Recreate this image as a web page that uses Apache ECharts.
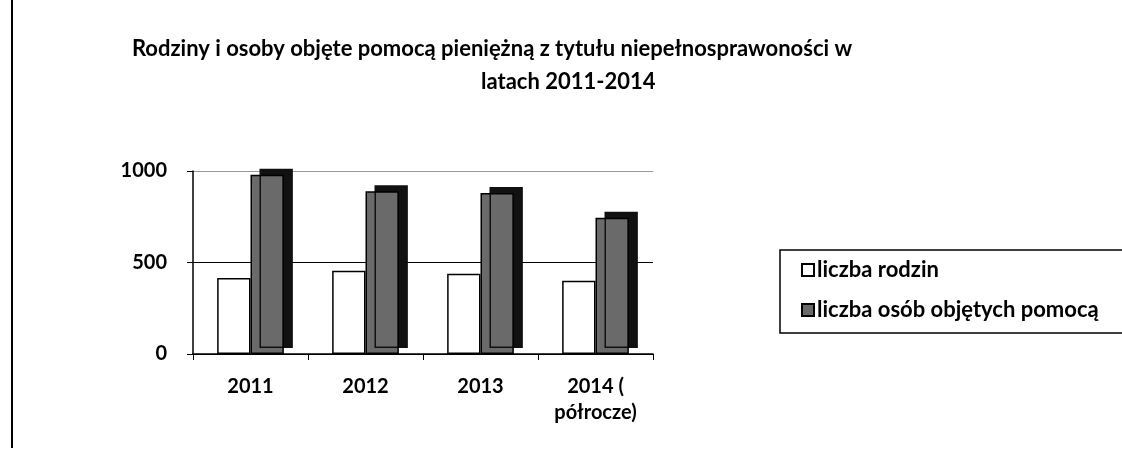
<!DOCTYPE html>
<html>
<head>
<meta charset="utf-8">
<script src="https://cdn.jsdelivr.net/npm/echarts@6/dist/echarts.min.js"></script>
<style>
  html, body { margin: 0; padding: 0; background: #fff; }
  #chart { width: 1122px; height: 458px; }
</style>
</head>
<body>
<div id="chart"></div>
<script>
var categories = ['2011', '2012', '2013', '2014 (\npółrocze)'];
var rodziny = [415, 455, 438, 400];
var osoby = [980, 890, 880, 745];
var yTicks = [0, 500, 1000];

var chart = echarts.init(document.getElementById('chart'));

var option = {
    backgroundColor: '#fff',
    textStyle: { fontFamily: 'Lato', color: '#000' },
    title: [
        {
            text: 'Rodziny i osoby objęte pomocą pieniężną z tytułu niepełnosprawoności w',
            left: 487,
            top: 33,
            textAlign: 'center',
            textStyle: { fontFamily: 'Lato', fontWeight: 'bold', fontSize: 22, color: '#000' }
        },
        {
            text: 'latach 2011-2014',
            left: 476,
            top: 66,
            textStyle: { fontFamily: 'Lato', fontWeight: 'bold', fontSize: 22, color: '#000' }
        }
    ],
    legend: {
        orient: 'vertical',
        left: 780,
        top: 250,
        padding: [9, 60, 12, 21],
        itemGap: 18,
        itemWidth: 12,
        itemHeight: 12,
        icon: 'rect',
        borderColor: '#000',
        borderWidth: 1.5,
        textStyle: { fontFamily: 'Lato', fontWeight: 'bold', fontSize: 22, color: '#000', padding: [0, 0, 0, -2] },
        data: ['liczba rodzin', 'liczba osób objętych pomocą']
    },
    grid: {
        left: 193,
        right: 469,
        top: 171,
        bottom: 104
    },
    xAxis: {
        type: 'category',
        data: categories,
        axisLine: { lineStyle: { color: '#000', width: 1.5 } },
        axisTick: { show: true, inside: false, length: 6, lineStyle: { color: '#000' } },
        axisLabel: {
            fontFamily: 'Lato', fontWeight: 'bold', fontSize: 20, color: '#000',
            margin: 20, lineHeight: 26
        }
    },
    yAxis: {
        type: 'value',
        min: yTicks[0],
        max: yTicks[yTicks.length - 1],
        interval: 500,
        axisLine: { show: true, lineStyle: { color: '#000', width: 1.5 } },
        axisTick: { show: true, length: 6, lineStyle: { color: '#000' } },
        axisLabel: {
            fontFamily: 'Lato', fontWeight: 'bold', fontSize: 20, color: '#000', margin: 26,
            formatter: function (v) { return String(v); }
        },
        splitLine: { show: true, lineStyle: { color: ['#000', '#000', '#999'], width: 1.2 } }
    },
    series: [
        {
            name: 'liczba rodzin',
            type: 'bar',
            data: rodziny,
            barGap: '0%',
            barCategoryGap: '42%',
            itemStyle: { color: '#fff', borderColor: '#000', borderWidth: 1.5 }
        },
        {
            name: 'liczba osób objętych pomocą',
            type: 'bar',
            data: osoby,
            itemStyle: {
                color: '#6a6a6a',
                borderColor: '#000',
                borderWidth: 1.5,
                shadowColor: '#111',
                shadowBlur: 0,
                shadowOffsetX: 9,
                shadowOffsetY: -6
            }
        }
    ],
    graphic: [
        {
            type: 'line',
            shape: { x1: 12, y1: 0, x2: 12, y2: 448 },
            style: { stroke: '#000', lineWidth: 2 }
        }
    ]
};

chart.setOption(option);
</script>
</body>
</html>
